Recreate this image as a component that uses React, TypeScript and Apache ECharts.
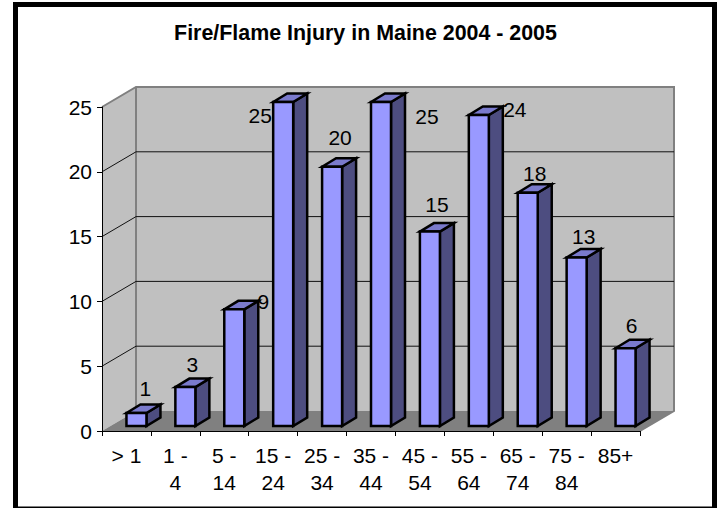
import React, { useEffect, useRef } from "react";
import * as echarts from "echarts";

const TITLE = "Fire/Flame Injury in Maine 2004 - 2005";
const categories = ["> 1", "1 -\n4", "5 -\n14", "15 -\n24", "25 -\n34", "35 -\n44", "45 -\n54", "55 -\n64", "65 -\n74", "75 -\n84", "85+"];
const values = [1, 3, 9, 25, 20, 25, 15, 24, 18, 13, 6];
const gridTicks = [5, 10, 15, 20, 25];
const labelDx = [9, 7, 29, -23, 8, 46, 7, 36, 7, 7, 6];
const labelDy = [-25, -23, -8, 13, -29, 14, -27, -5, -19, -21, -23];

const FONT = "'Liberation Sans', Arial, sans-serif";
const DEPTH_X = 34;
const DEPTH_Y = -20;

function renderWalls(params: any, api: any) {
  const v = api.value(0);
  const [x0, y0] = api.coord([0, 0]);
  const band = api.size([1, 0])[0];
  const x00 = x0 - band / 2;
  const x1 = x00 + band * categories.length;
  const yTop = api.coord([0, 25])[1];
  const bx = x00 + DEPTH_X;
  const bx1 = x1 + DEPTH_X;
  const y = api.coord([0, v])[1];
  const children: any[] = [];
  if (params.dataIndex === 0) {
    children.push(
      { type: "polygon", shape: { points: [[x00, y0], [bx, y0 + DEPTH_Y], [bx, yTop + DEPTH_Y], [x00, yTop]] }, style: { fill: "#c0c0c0" } },
      { type: "rect", shape: { x: bx, y: yTop + DEPTH_Y, width: bx1 - bx, height: y0 - yTop }, style: { fill: "#c0c0c0" } },
      { type: "polygon", shape: { points: [[x00, y0], [x1, y0], [bx1, y0 + DEPTH_Y], [bx, y0 + DEPTH_Y]] }, style: { fill: "#808080" } },
      { type: "polyline", shape: { points: [[x00, yTop], [bx, yTop + DEPTH_Y], [bx1, yTop + DEPTH_Y], [bx1, y0 + DEPTH_Y], [x1, y0]] }, style: { fill: "none", stroke: "#808080", lineWidth: 2 } },
      { type: "line", shape: { x1: bx, y1: yTop + DEPTH_Y, x2: bx, y2: y0 + DEPTH_Y }, style: { stroke: "#808080", lineWidth: 2 } }
    );
  }
  if (v < 25) {
    children.push({
      type: "polyline",
      shape: { points: [[x00, y], [bx, y + DEPTH_Y], [bx1, y + DEPTH_Y]] },
      style: { fill: "none", stroke: "#111", lineWidth: 1 },
    });
  }
  return { type: "group", children };
}

function renderBar(params: any, api: any) {
  const i = params.dataIndex;
  const v = api.value(1);
  const [cx, yt] = api.coord([i, v]);
  const yb = api.coord([i, 0])[1];
  const w = 20;
  const dx = 14;
  const dy = -8.5;
  const l = cx;
  const r = l + w;
  const top = yt - 5;
  const bot = yb - 5;
  const stroke = { stroke: "#000", lineWidth: 2.5, lineJoin: "miter" };
  return {
    type: "group",
    children: [
      { type: "polygon", shape: { points: [[r, top], [r + dx, top + dy], [r + dx, bot + dy], [r, bot]] }, style: { fill: "#4d4d80", ...stroke } },
      { type: "polygon", shape: { points: [[l, top], [l + dx, top + dy], [r + dx, top + dy], [r, top]] }, style: { fill: "#7a7acc", ...stroke } },
      { type: "rect", shape: { x: l, y: top, width: w, height: bot - top }, style: { fill: "#9999ff", ...stroke } },
      {
        type: "text",
        z2: 50,
        style: {
          text: String(v),
          x: l + w / 2 + labelDx[i],
          y: top + labelDy[i],
          align: "center",
          verticalAlign: "middle",
          fontSize: 21,
          fontFamily: FONT,
          fill: "#000",
        },
      },
    ],
  };
}

export default function App() {
  const ref = useRef<HTMLDivElement>(null);
  useEffect(() => {
    document.body.style.margin = "0";
    const chart = echarts.init(ref.current!, null, { renderer: "svg" });
    chart.setOption({
      animation: false,
      backgroundColor: "#fff",
      title: {
        text: TITLE,
        left: 360.5,
        top: 17,
        textAlign: "center",
        textStyle: { fontFamily: FONT, fontSize: 21.4, fontWeight: "bold", color: "#000" },
      },
      grid: { left: 102, top: 107, width: 538, height: 324 },
      xAxis: {
        type: "category",
        data: categories,
        axisLine: { show: true, lineStyle: { color: "#000", width: 1 } },
        axisTick: { show: true, length: 5, lineStyle: { color: "#000" } },
        axisLabel: { interval: 0, margin: 11, fontFamily: FONT, fontSize: 21, color: "#000", lineHeight: 27 },
        z: 5,
      },
      yAxis: {
        type: "value",
        min: 0,
        max: 25,
        interval: 5,
        splitLine: { show: false },
        axisLine: { show: true, lineStyle: { color: "#000", width: 1 } },
        axisTick: { show: true, length: 5, lineStyle: { color: "#000" } },
        axisLabel: { margin: 10, fontFamily: FONT, fontSize: 21, color: "#000" },
        z: 5,
      },
      graphic: [
        {
          type: "rect",
          z: 100,
          shape: { x: 15.5, y: 4.5, width: 699, height: 504.5 },
          style: { fill: "none", stroke: "#000", lineWidth: 5 },
        },
      ],
      series: [
        {
          type: "custom",
          name: "walls",
          coordinateSystem: "cartesian2d",
          clip: false,
          silent: true,
          z: 1,
          renderItem: renderWalls,
          encode: { x: 1, y: 0 },
          data: gridTicks.map((t) => [t, 0]),
        },
        {
          type: "custom",
          name: "Injuries",
          coordinateSystem: "cartesian2d",
          clip: false,
          z: 10,
          renderItem: renderBar,
          encode: { x: 0, y: 1 },
          data: values.map((v, i) => [i, v]),
        },
      ],
    });
    return () => chart.dispose();
  }, []);
  return <div ref={ref} style={{ width: 722, height: 508 }} />;
}
